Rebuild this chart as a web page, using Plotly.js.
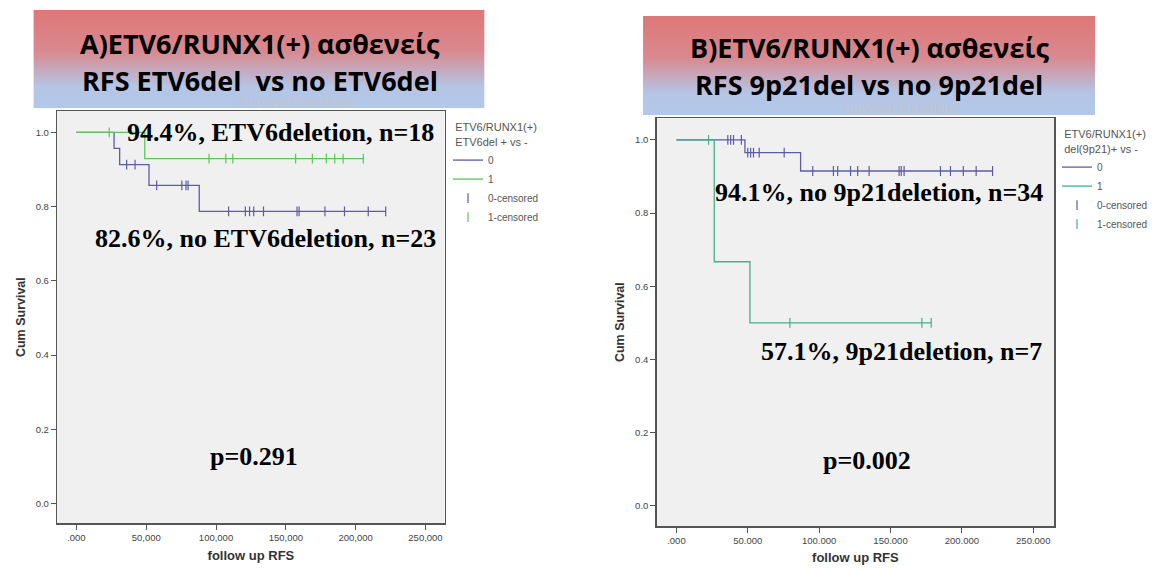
<!DOCTYPE html>
<html>
<head>
<meta charset="utf-8">
<script src="https://cdn.plot.ly/plotly-3.0.1.min.js"></script>
<style>html,body{margin:0;padding:0;background:#fff;}#chart{width:1153px;height:571px;}</style>
</head>
<body>
<div id="chart"></div>
<script>
// ---------- Panel A: ETV6del (1) vs no ETV6del (0) ----------
const A_times0 = [0, 27, 31, 52, 88, 221.5];
const A_surv0  = [1, 0.957, 0.913, 0.857, 0.787, 0.787];
const A_cens0  = [36, 42, 57.5, 75.5, 78.5, 80, 109, 121, 124, 127, 134, 158, 159.5, 178, 192, 209, 221.5];
const A_times1 = [0, 49, 205.5];
const A_surv1  = [1, 0.929, 0.929];
const A_cens1  = [23.5, 95, 107, 112, 157, 169, 179, 185, 191, 205.5];

// ---------- Panel B: 9p21del (1) vs no 9p21del (0) ----------
const B_times0 = [0, 48, 87, 221.5];
const B_surv0  = [1, 0.965, 0.915, 0.915];
const B_cens0  = [36, 38, 40, 45.5, 50, 52, 54, 58, 75.5, 95.5, 110, 113, 122, 127, 135, 156, 157.5, 159.5, 185, 192, 201, 210, 221.5];
const B_times1 = [0, 26.5, 51.5, 178.5];
const B_surv1  = [1, 0.667, 0.5, 0.5];
const B_cens1  = [22.5, 79.5, 172, 178.5];

const tickVals = [0, 50, 100, 150, 200, 250];
const tickTextA = [".000", "50,000", "100,000", "150,000", "200,000", "250,000"];
const tickTextB = [".000", "50.000", "100.000", "150.000", "200.000", "250.000"];
const yTickVals = [0, 0.2, 0.4, 0.6, 0.8, 1.0];
const yTickText = ["0.0", "0.2", "0.4", "0.6", "0.8", "1.0"];

const titleA = ["A)ETV6/RUNX1(+) ασθενείς", "RFS ETV6del  vs no ETV6del"];
const titleB = ["B)ETV6/RUNX1(+) ασθενείς", "RFS 9p21del vs no 9p21del"];
const notesA = ["94.4%, ETV6deletion, n=18", "82.6%, no ETV6deletion, n=23", "p=0.291"];
const notesB = ["94.1%, no 9p21deletion, n=34", "57.1%, 9p21deletion, n=7", "p=0.002"];
const legendTitleA = "ETV6/RUNX1(+)<br>ETV6del + vs -";
const legendTitleB = "ETV6/RUNX1(+)<br>del(9p21)+ vs -";
const seriesNames = ["0", "1", "0-censored", "1-censored"];

const BLUE = "#5b5ba8", GREEN_A = "#5ec45e", GREEN_B = "#45b08c";

function survAt(times, surv, t) {
  let s = surv[0];
  for (let i = 0; i < times.length; i++) { if (times[i] <= t) s = surv[i]; }
  return s;
}
function stepTrace(times, surv, color, name, xa, ya, leg) {
  return {x: times, y: surv, type: "scatter", mode: "lines", line: {shape: "hv", color: color, width: 1.3},
          name: name, xaxis: xa, yaxis: ya, legend: leg, hoverinfo: "skip"};
}
function censTrace(cens, times, surv, color, name, xa, ya, leg) {
  return {x: cens, y: cens.map(t => survAt(times, surv, t)), type: "scatter", mode: "markers",
          marker: {symbol: "line-ns-open", size: 7, color: color, line: {color: color, width: 1.2}},
          name: name, xaxis: xa, yaxis: ya, legend: leg, hoverinfo: "skip"};
}

const traces = [
  stepTrace(A_times0, A_surv0, BLUE, seriesNames[0], "x", "y", "legend"),
  stepTrace(A_times1, A_surv1, GREEN_A, seriesNames[1], "x", "y", "legend"),
  censTrace(A_cens0, A_times0, A_surv0, BLUE, seriesNames[2], "x", "y", "legend"),
  censTrace(A_cens1, A_times1, A_surv1, GREEN_A, seriesNames[3], "x", "y", "legend"),
  stepTrace(B_times0, B_surv0, BLUE, seriesNames[0], "x2", "y2", "legend2"),
  stepTrace(B_times1, B_surv1, GREEN_B, seriesNames[1], "x2", "y2", "legend2"),
  censTrace(B_cens0, B_times0, B_surv0, BLUE, seriesNames[2], "x2", "y2", "legend2"),
  censTrace(B_cens1, B_times1, B_surv1, GREEN_B, seriesNames[3], "x2", "y2", "legend2"),
];

const W = 1153, H = 571;
const px = v => v / W, py = v => 1 - v / H;

const tickFont = {family: "Liberation Sans, Arial, sans-serif", size: 9.5, color: "#444"};
const axTitleFont = {family: "Liberation Sans, Arial, sans-serif", size: 13, color: "#333"};
function xAxis(domain, range, ticktext, anchor) {
  return {domain: domain, range: range, anchor: anchor, tickmode: "array", tickvals: tickVals, ticktext: ticktext,
          ticks: "outside", ticklen: 5, tickcolor: "#555", tickfont: tickFont, showgrid: false, zeroline: false,
          showline: true, mirror: true, linecolor: "#555", linewidth: 1.5, automargin: false,
          title: {text: "<b>follow up RFS</b>", font: axTitleFont, standoff: 8}};
}
function yAxis(domain, range, anchor) {
  return {domain: domain, range: range, anchor: anchor, tickmode: "array", tickvals: yTickVals, ticktext: yTickText,
          ticks: "outside", ticklen: 5, tickcolor: "#555", tickfont: tickFont, showgrid: false, zeroline: false,
          showline: true, mirror: true, linecolor: "#555", linewidth: 1.5, automargin: false,
          title: {text: "<b>Cum Survival</b>", font: {family: axTitleFont.family, size: 12.5, color: "#333"}, standoff: 7}};
}

function gradSrc() {
  const svg = '<svg xmlns="http://www.w3.org/2000/svg" width="100" height="100" viewBox="0 0 100 100" preserveAspectRatio="none">' +
    '<defs><linearGradient id="g" x1="0" y1="0" x2="0" y2="1">' +
    '<stop offset="0" stop-color="#de7777"/><stop offset="0.42" stop-color="#d9898f"/>' +
    '<stop offset="0.78" stop-color="#b5c5e5"/><stop offset="1" stop-color="#b2c8ea"/>' +
    '</linearGradient></defs><rect width="100" height="100" fill="url(#g)"/></svg>';
  return "data:image/svg+xml;charset=utf-8," + encodeURIComponent(svg);
}

const titleFont = {family: "Open Sans, Noto Sans, sans-serif", size: 27, color: "#000", weight: 700};
const noteFont = {family: "Liberation Serif, Times New Roman, serif", size: 26, color: "#000", weight: 700};
const sfFont = {family: "Liberation Sans, Arial, sans-serif", size: 14, color: "#c4c4cc"};

function ann(text, x, y, xref, yref, font) {
  return {text: text, x: x, y: y, xref: xref, yref: yref, showarrow: false, xanchor: "center", yanchor: "middle", font: font};
}

const annotations = [
  ann("Survival Functions", px(296.6), py(102), "paper", "paper", sfFont),
  ann("Survival Functions", px(902), py(108), "paper", "paper", sfFont),
  ann("<b>" + titleA[0] + "</b>", px(260), py(44), "paper", "paper", titleFont),
  ann("<b>" + titleA[1] + "</b>", px(260), py(80), "paper", "paper", titleFont),
  ann("<b>" + titleB[0] + "</b>", px(870.2), py(47), "paper", "paper", titleFont),
  ann("<b>" + titleB[1] + "</b>", px(870.2), py(84), "paper", "paper", titleFont),
  ann("<b>" + notesA[0] + "</b>", 146.1, 1.0, "x", "y", noteFont),
  ann("<b>" + notesA[1] + "</b>", 135.7, 0.713, "x", "y", noteFont),
  ann("<b>" + notesA[2] + "</b>", 127.1, 0.126, "x", "y", noteFont),
  ann("<b>" + notesB[0] + "</b>", 142.2, 0.856, "x2", "y2", noteFont),
  ann("<b>" + notesB[1] + "</b>", 157.7, 0.421, "x2", "y2", noteFont),
  ann("<b>" + notesB[2] + "</b>", 133.4, 0.125, "x2", "y2", noteFont),
];

const legFont = {family: "Liberation Sans, Arial, sans-serif", size: 10, color: "#555"};
function legend(x, y, title) {
  return {x: x, y: y, xanchor: "left", yanchor: "top", xref: "paper", yref: "paper", bgcolor: "rgba(0,0,0,0)",
          font: legFont, itemwidth: 30, tracegroupgap: 0,
          title: {text: title, font: {family: legFont.family, size: 11, color: "#555"}, side: "top center"}};
}

const layout = {
  width: W, height: H, margin: {l: 0, r: 0, t: 0, b: 0},
  paper_bgcolor: "#ffffff", plot_bgcolor: "#f0f0f0", showlegend: true,
  xaxis: xAxis([px(57.3), px(445)], [-13.7, 263.7], tickTextA, "y"),
  yaxis: yAxis([py(523.3), py(111)], [-0.053, 1.0575], "x"),
  xaxis2: xAxis([px(657.3), px(1055)], [-13.8, 264.6], tickTextB, "y2"),
  yaxis2: yAxis([py(526), py(118.3)], [-0.055, 1.059], "x2"),
  legend: legend(px(448), py(117), legendTitleA),
  legend2: legend(px(1058), py(124), legendTitleB),
  images: [
    {source: gradSrc(), xref: "paper", yref: "paper", x: px(33.4), y: py(10), sizex: px(485 - 33.4), sizey: 98.3 / H,
     xanchor: "left", yanchor: "top", sizing: "stretch", layer: "above"},
    {source: gradSrc(), xref: "paper", yref: "paper", x: px(643.6), y: py(16), sizex: px(1096 - 643.6), sizey: 99 / H,
     xanchor: "left", yanchor: "top", sizing: "stretch", layer: "above"},
  ],
  annotations: annotations,
};

Plotly.newPlot("chart", traces, layout, {staticPlot: true, displayModeBar: false});
</script>
</body>
</html>
